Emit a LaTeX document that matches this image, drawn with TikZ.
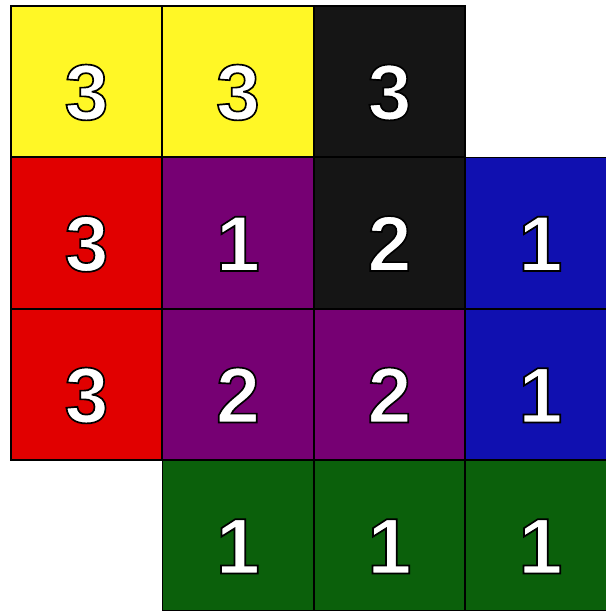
\documentclass[tikz,border=0pt]{standalone}
\usepackage{fontspec}
\setmainfont{Liberation Sans}
\usepackage{tikz}
\definecolor{yel}{HTML}{FFF726}
\definecolor{rd}{HTML}{E10000}
\definecolor{purp}{HTML}{760073}
\definecolor{blk}{HTML}{151515}
\definecolor{blu}{HTML}{1010B0}
\definecolor{grn}{HTML}{0B600B}
% white digit with a black rim (stroke and fill of the glyph)
\newcommand{\num}[1]{\special{pdf:code q 2 Tr 0 G 1.2 w}#1\special{pdf:code 0 Tr Q}}

\begin{document}
\begin{tikzpicture}[x=0.025cm,y=-0.025cm,
  cell/.style={draw=black,line width=1.2pt,minimum size=3.775cm,inner sep=0pt,outer sep=0pt,
    text=white,font=\bfseries\fontsize{56}{60}\selectfont,text height=1.9cm,text depth=0pt}]
\useasboundingbox (0,0) rectangle (605,611);
\node[cell,fill=yel] (a1) at (86.5,81.5) {\num{3}};
\node[cell,fill=yel] (a2) at (238,81.5) {\num{3}};
\node[cell,fill=blk] (a3) at (389.5,81.5) {\num{3}};
\node[cell,fill=rd] (b1) at (86.5,233) {\num{3}};
\node[cell,fill=purp] (b2) at (238,233) {\num{1}};
\node[cell,fill=blk] (b3) at (389.5,233) {\num{2}};
\node[cell,fill=blu] (b4) at (540.5,233) {\num{1}};
\node[cell,fill=rd] (c1) at (86.5,384.5) {\num{3}};
\node[cell,fill=purp] (c2) at (238,384.5) {\num{2}};
\node[cell,fill=purp] (c3) at (389.5,384.5) {\num{2}};
\node[cell,fill=blu] (c4) at (540.5,384.5) {\num{1}};
\node[cell,fill=grn] (d2) at (238,535.5) {\num{1}};
\node[cell,fill=grn] (d3) at (389.5,535.5) {\num{1}};
\node[cell,fill=grn] (d4) at (540.5,535.5) {\num{1}};
\end{tikzpicture}
\end{document}
